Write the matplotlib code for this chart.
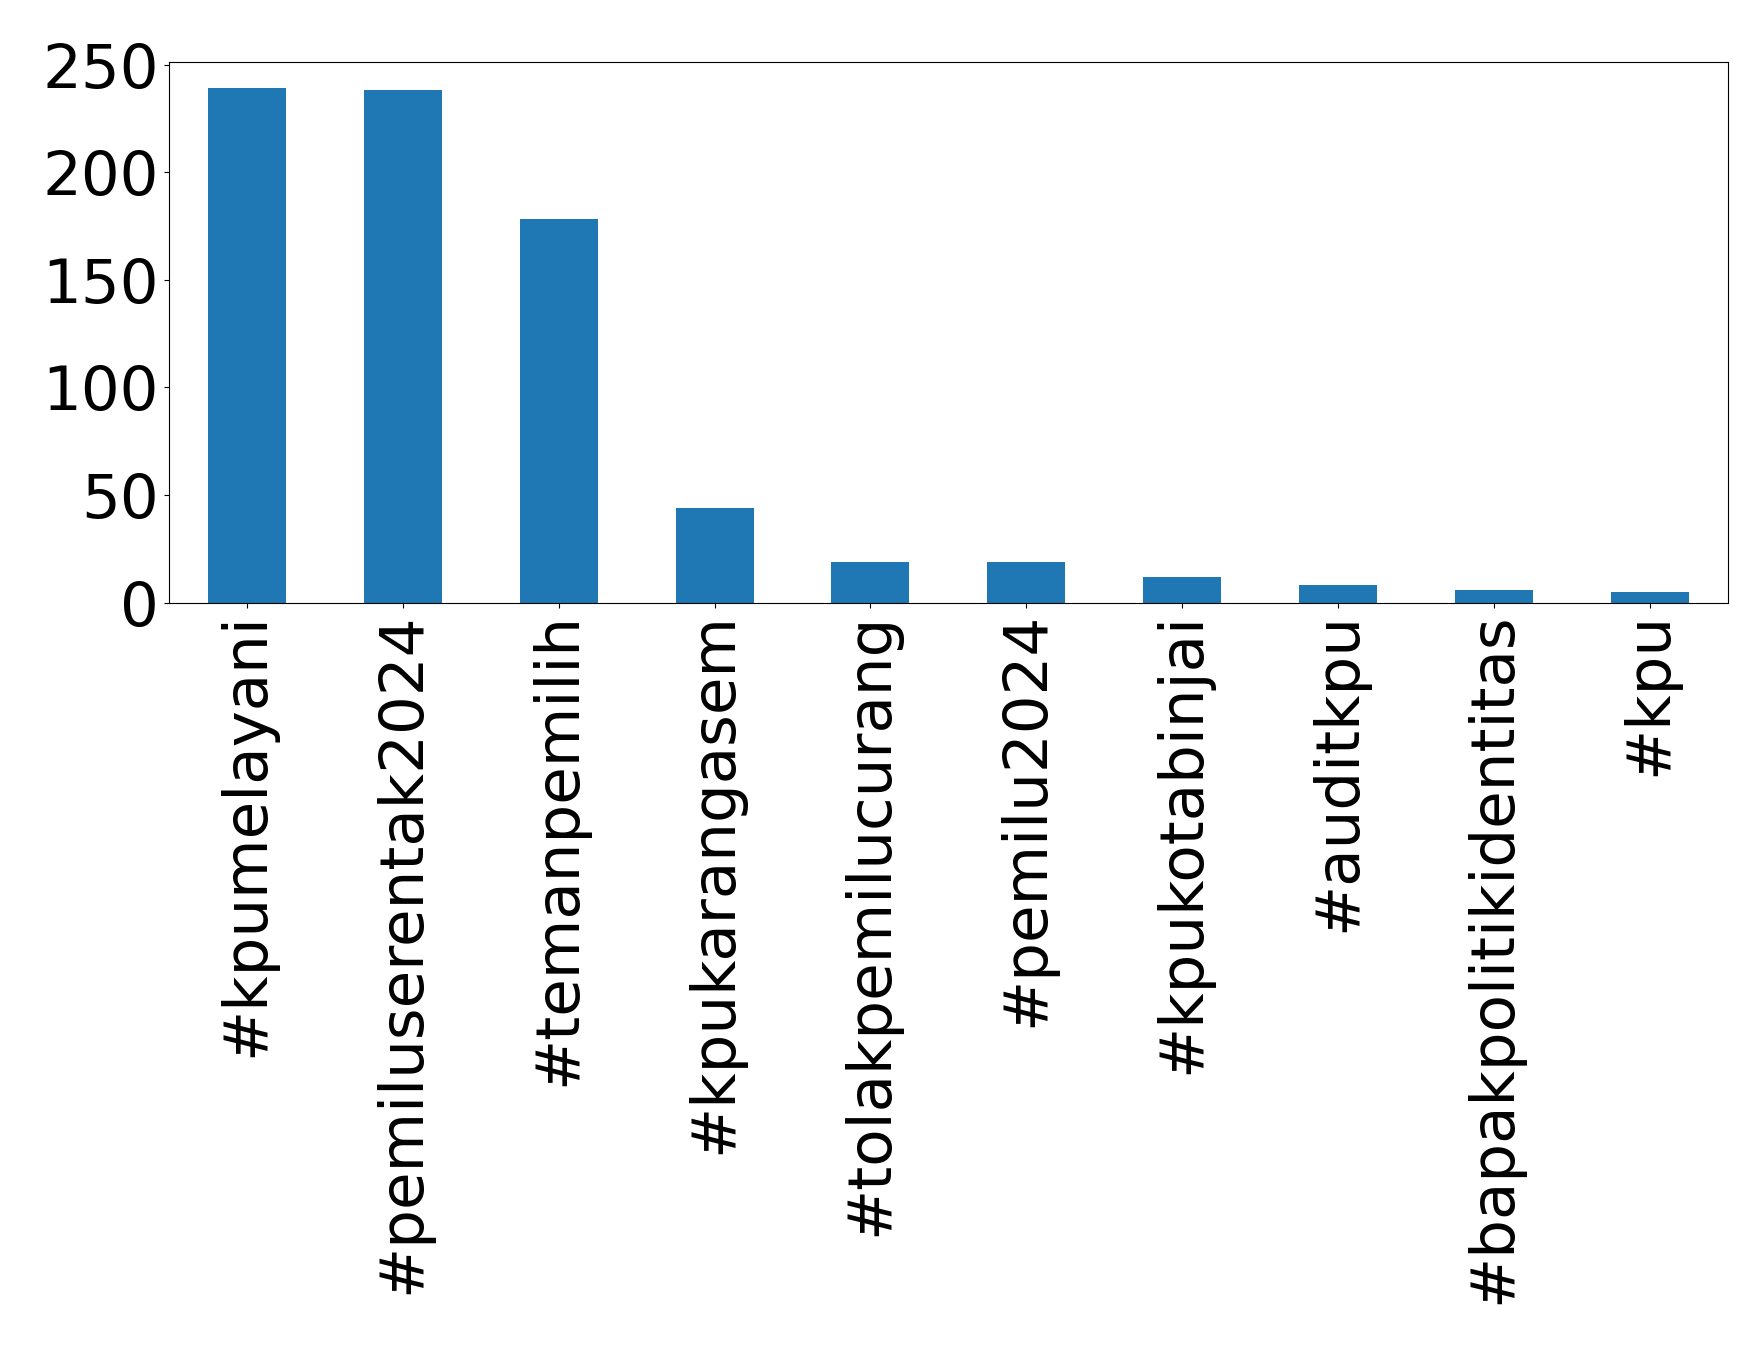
import matplotlib
matplotlib.use("Agg")
import matplotlib.pyplot as plt

categories = ["#kpumelayani", "#pemiluserentak2024", "#temanpemilih", "#kpukarangasem",
              "#tolakpemilucurang", "#pemilu2024", "#kpukotabinjai", "#auditkpu",
              "#bapakpolitikidentitas", "#kpu"]
counts = [239, 238, 178, 44, 19, 19, 12, 8, 6, 5]

fig = plt.figure(figsize=(17.58, 13.57), dpi=100)
ax = fig.add_axes([0.096, 0.556, 0.887, 0.398])
x = range(len(categories))
ax.bar(x, counts, width=0.5, color="#1f77b4")
ax.set_xticks(list(x))
ax.set_xticklabels(categories, rotation=90, fontsize=44)
ax.tick_params(axis="y", labelsize=44)
ax.set_xlim(-0.5, len(categories) - 0.5)
ax.set_ylim(0, 251)
ax.set_yticks([0, 50, 100, 150, 200, 250])
fig.savefig("out.png", dpi=100)
